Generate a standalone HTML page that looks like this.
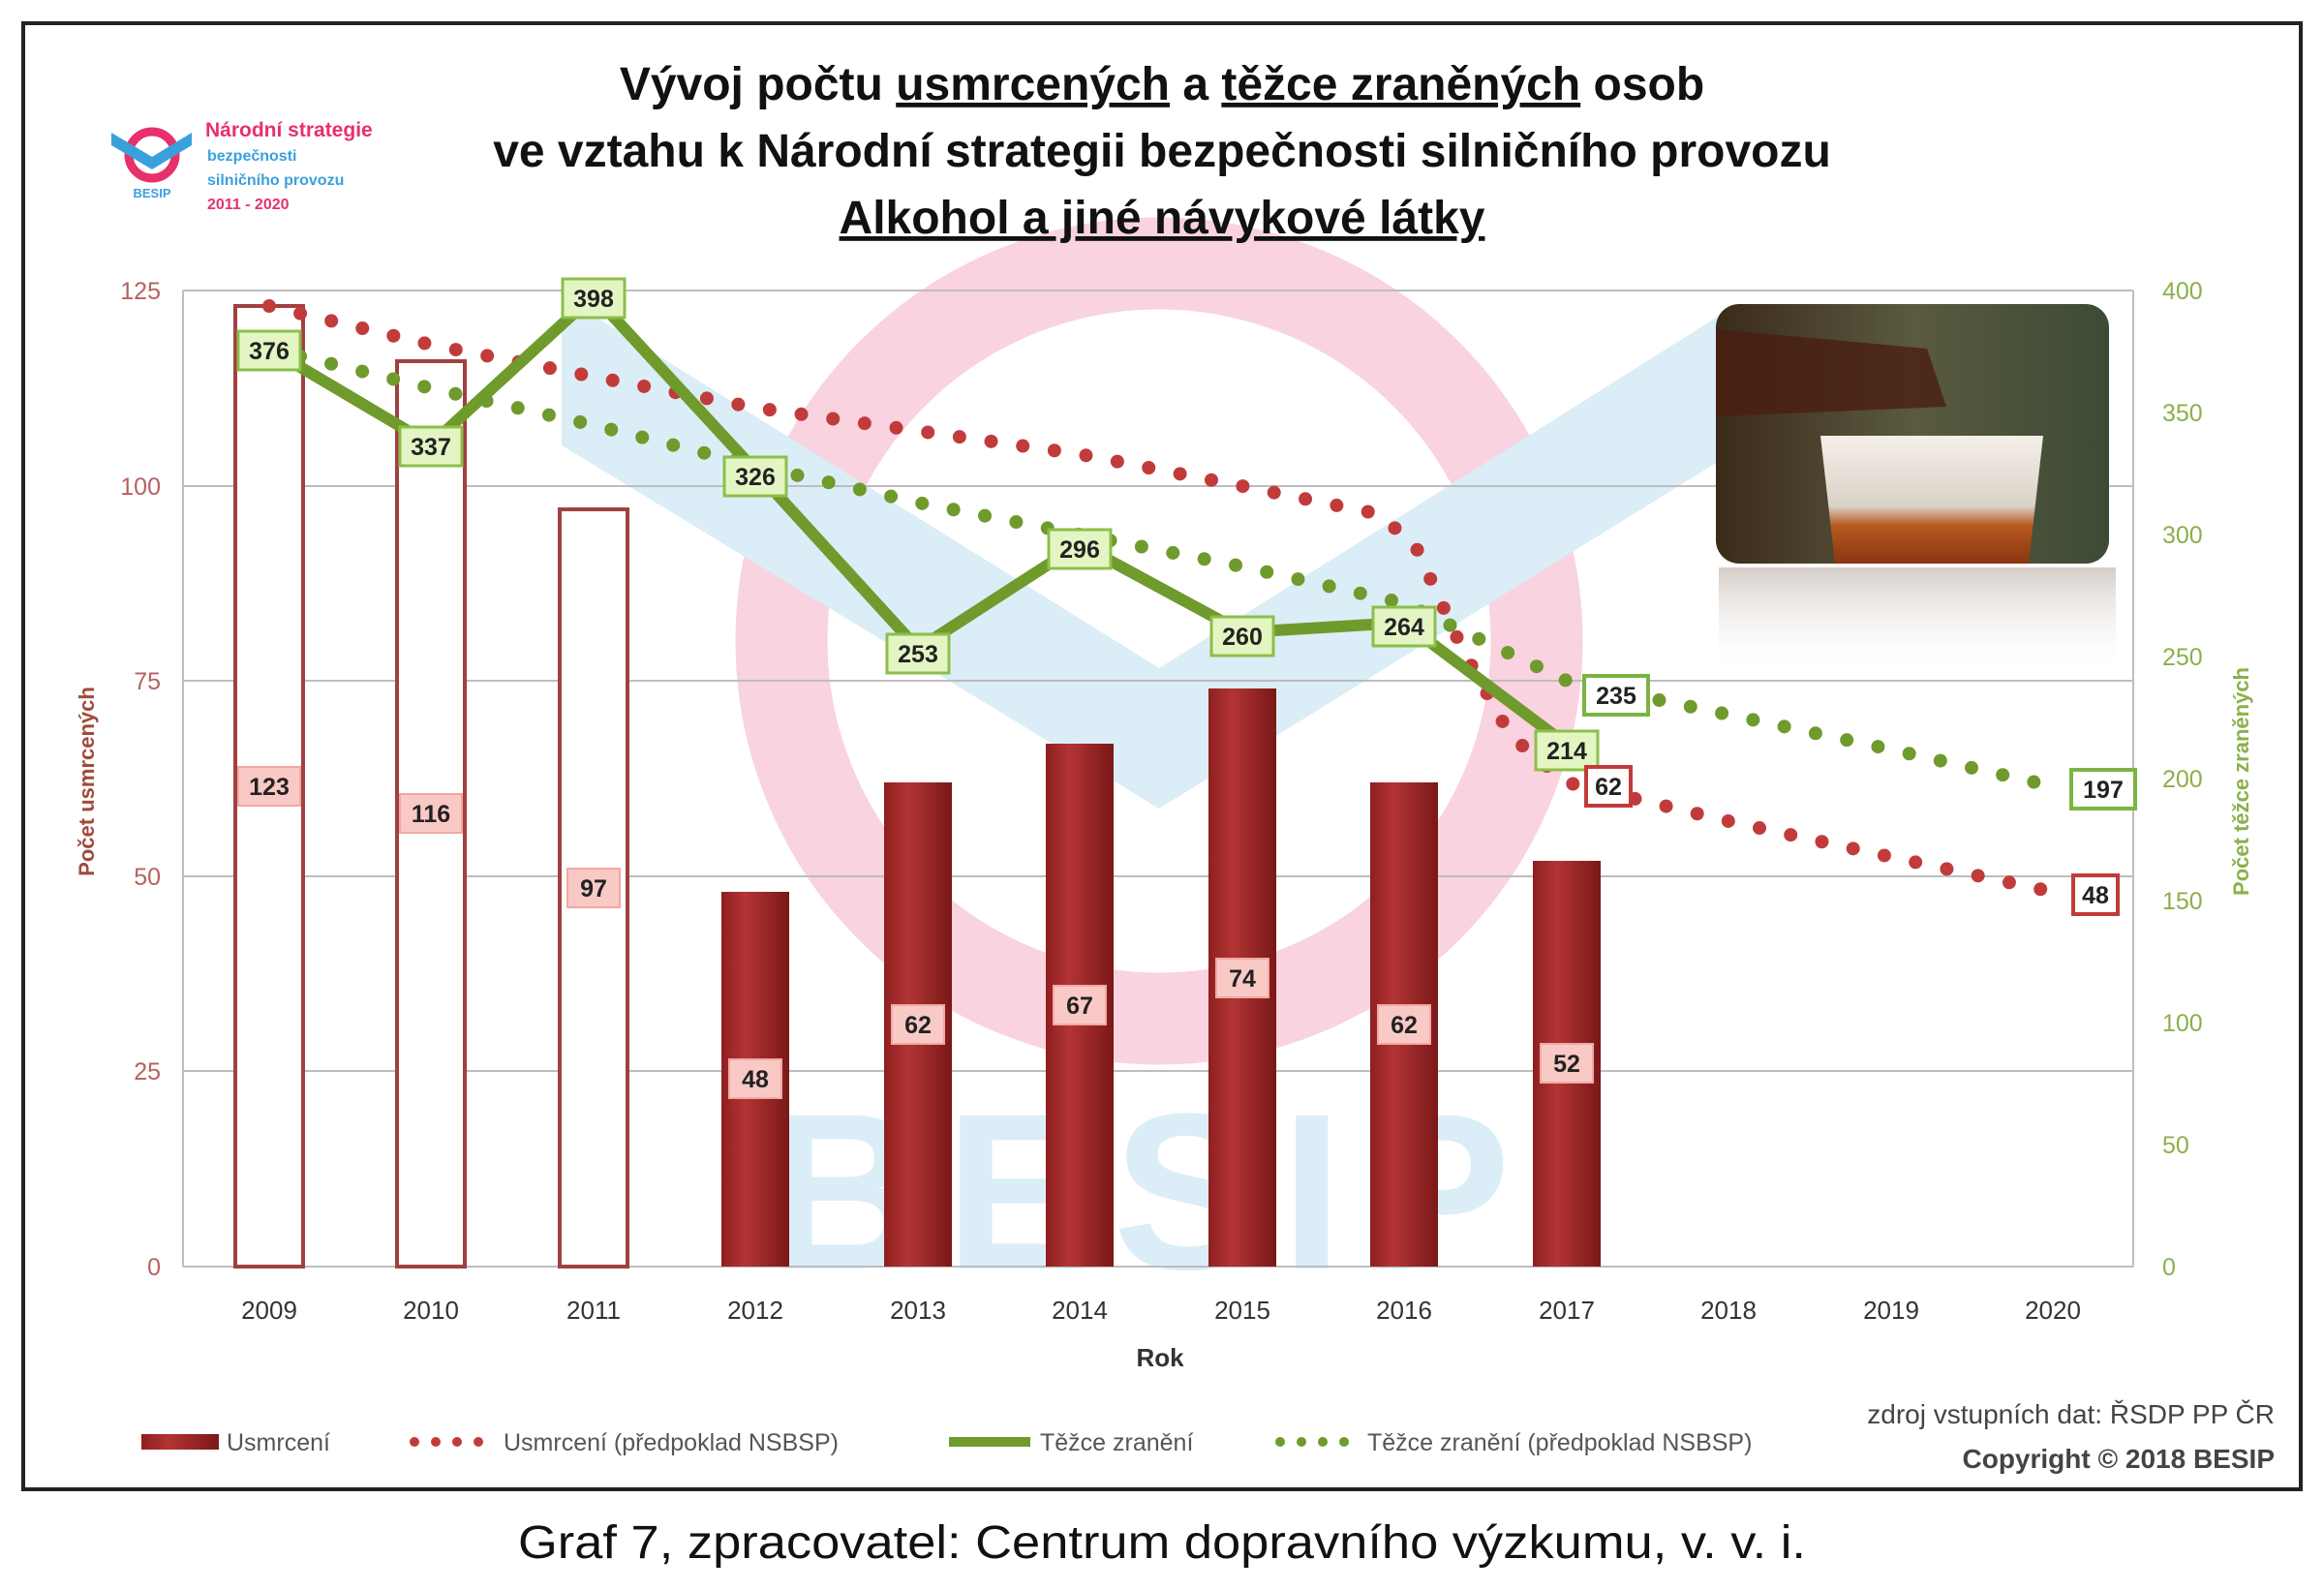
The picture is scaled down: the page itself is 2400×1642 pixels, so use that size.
<!DOCTYPE html>
<html><head><meta charset="utf-8"><style>
html,body{margin:0;padding:0;background:#fff}
svg{display:block}
text{font-family:"Liberation Sans","DejaVu Sans",sans-serif}
</style></head><body>
<svg width="2400" height="1642" viewBox="0 0 2400 1642" xmlns="http://www.w3.org/2000/svg">
<defs>
<linearGradient id="bar" x1="0" x2="1" y1="0" y2="0"><stop offset="0" stop-color="#8e1f1f"/><stop offset="0.35" stop-color="#b33434"/><stop offset="1" stop-color="#7a1818"/></linearGradient>
<linearGradient id="photo" x1="0" x2="1" y1="0" y2="0"><stop offset="0" stop-color="#3b2a1a"/><stop offset="0.5" stop-color="#5a5a40"/><stop offset="1" stop-color="#3d4a35"/></linearGradient>
<linearGradient id="beer" x1="0" x2="0" y1="0" y2="1"><stop offset="0" stop-color="#f4efe8"/><stop offset="0.55" stop-color="#d9d2c8"/><stop offset="0.7" stop-color="#b85a20"/><stop offset="1" stop-color="#8a3510"/></linearGradient>
<linearGradient id="refl" x1="0" x2="0" y1="0" y2="1"><stop offset="0" stop-color="#c9c0b8" stop-opacity="0.8"/><stop offset="1" stop-color="#fff" stop-opacity="0"/></linearGradient>
</defs>
<rect x="0" y="0" width="2400" height="1642" fill="#fff"/>
<rect x="24" y="24" width="2352" height="1514" fill="#fff" stroke="#222" stroke-width="4"/>

<!-- watermark -->
<g opacity="0.5">
<circle cx="1197" cy="662" r="390" fill="none" stroke="#f4a8c0" stroke-width="95"/>
<polygon points="580,305 1197,690 1785,320 1785,470 1197,835 580,460" fill="#b8dcf0"/>
<text x="1185" y="1310" text-anchor="middle" font-size="230" font-weight="bold" fill="#b8dcf0" letter-spacing="20">BESIP</text>
</g>

<!-- gridlines -->
<g stroke="#bdbdbd" stroke-width="2">
<line x1="189" y1="300" x2="2203" y2="300"/>
<line x1="189" y1="502" x2="2203" y2="502"/>
<line x1="189" y1="703" x2="2203" y2="703"/>
<line x1="189" y1="905" x2="2203" y2="905"/>
<line x1="189" y1="1106" x2="2203" y2="1106"/>
<line x1="189" y1="1308" x2="2203" y2="1308"/>
<line x1="189" y1="300" x2="189" y2="1308"/>
<line x1="2203" y1="300" x2="2203" y2="1308"/>
</g>

<!-- photo -->
<rect x="1775" y="586" width="410" height="110" fill="url(#refl)"/>
<rect x="1772" y="314" width="406" height="268" rx="24" fill="url(#photo)"/>
<path d="M1772 340 L1990 360 L2010 420 L1772 430 Z" fill="#4a1e10" opacity="0.8"/>
<path d="M1880 450 L2110 450 L2095 582 L1895 582 Z" fill="url(#beer)"/>

<!-- logo -->
<circle cx="157" cy="160" r="24" fill="none" stroke="#e8306a" stroke-width="9"/>
<polygon points="115,137 157,162 198,137 198,150 157,175 115,150" fill="#3aa0dc"/>
<text x="157" y="204" text-anchor="middle" font-size="13" font-weight="bold" fill="#3aa0dc">BESIP</text>
<text x="212" y="141" font-size="21" font-weight="bold" fill="#e8306a">Národní strategie</text>
<text x="214" y="166" font-size="16" font-weight="bold" fill="#3aa0dc">bezpečnosti</text>
<text x="214" y="191" font-size="16" font-weight="bold" fill="#3aa0dc">silničního provozu</text>
<text x="214" y="216" font-size="16" font-weight="bold" fill="#e8306a">2011 - 2020</text>

<!-- title -->
<g font-size="48" font-weight="bold" fill="#111" text-anchor="middle">
<text x="1200" y="103">Vývoj počtu <tspan text-decoration="underline">usmrcených</tspan> a <tspan text-decoration="underline">těžce zraněných</tspan> osob</text>
<text x="1200" y="172">ve vztahu k Národní strategii bezpečnosti silničního provozu</text>
<text x="1200" y="241" text-decoration="underline">Alkohol a jiné návykové látky</text>
</g>

<!-- bars -->
<g stroke="#a04040" stroke-width="4" fill="#fff">
<rect x="243" y="316" width="70" height="992"/>
<rect x="410" y="373" width="70" height="935"/>
<rect x="578" y="526" width="70" height="782"/>
</g>
<g fill="url(#bar)">
<rect x="745" y="921" width="70" height="387"/>
<rect x="913" y="808" width="70" height="500"/>
<rect x="1080" y="768" width="70" height="540"/>
<rect x="1248" y="711" width="70" height="597"/>
<rect x="1415" y="808" width="70" height="500"/>
<rect x="1583" y="889" width="70" height="419"/>
</g>

<!-- dotted forecasts -->
<polyline points="278,316 445,356 613,389 780,421 948,445 1115,469 1283,502 1420,530 1460,560 1510,670 1560,760 1618,808 1785,848 1953,885 2120,921" fill="none" stroke="#c23b3b" stroke-width="14" stroke-linecap="round" stroke-dasharray="0 33"/>
<polyline points="278,360 445,401 613,439 780,481 948,519 1115,552 1283,585 1450,623 1618,703 1785,738 1953,774 2120,812" fill="none" stroke="#6f9a2c" stroke-width="14" stroke-linecap="round" stroke-dasharray="0 33"/>

<!-- green line -->
<polyline points="278,360 445,459 613,305 780,486 948,670 1115,562 1283,653 1450,643 1618,769" fill="none" stroke="#6f9a2c" stroke-width="12" stroke-linejoin="round"/>

<!-- labels -->
<g font-size="25" font-weight="bold" text-anchor="middle" fill="#222">
<g fill="#e4f5c4" stroke="#8cbf4a" stroke-width="3">
<rect x="246" y="342" width="64" height="40"/>
<rect x="413" y="441" width="64" height="40"/>
<rect x="581" y="288" width="64" height="40"/>
<rect x="748" y="472" width="64" height="40"/>
<rect x="916" y="655" width="64" height="40"/>
<rect x="1083" y="547" width="64" height="40"/>
<rect x="1251" y="637" width="64" height="40"/>
<rect x="1418" y="627" width="64" height="40"/>
<rect x="1586" y="755" width="64" height="40"/>
</g>
<text x="278" y="371">376</text><text x="445" y="470">337</text><text x="613" y="317">398</text>
<text x="780" y="501">326</text><text x="948" y="684">253</text><text x="1115" y="576">296</text>
<text x="1283" y="666">260</text><text x="1450" y="656">264</text><text x="1618" y="784">214</text>
<g fill="#fff" stroke="#7cb342" stroke-width="4">
<rect x="1636" y="698" width="66" height="40"/><rect x="2139" y="795" width="66" height="40"/>
</g>
<text x="1669" y="727">235</text><text x="2172" y="824">197</text>
<g fill="#fff" stroke="#c23b3b" stroke-width="4">
<rect x="1638" y="792" width="46" height="40"/><rect x="2141" y="904" width="46" height="40"/>
</g>
<text x="1661" y="821">62</text><text x="2164" y="933">48</text>
<g fill="#f9c9c6" stroke="#f0a8a4" stroke-width="2">
<rect x="246" y="792" width="64" height="40"/><rect x="413" y="820" width="64" height="40"/>
<rect x="586" y="897" width="54" height="40"/><rect x="753" y="1094" width="54" height="40"/>
<rect x="921" y="1038" width="54" height="40"/><rect x="1088" y="1018" width="54" height="40"/>
<rect x="1256" y="990" width="54" height="40"/><rect x="1423" y="1038" width="54" height="40"/>
<rect x="1591" y="1078" width="54" height="40"/>
</g>
<text x="278" y="821">123</text><text x="445" y="849">116</text><text x="613" y="926">97</text>
<text x="780" y="1123">48</text><text x="948" y="1067">62</text><text x="1115" y="1047">67</text>
<text x="1283" y="1019">74</text><text x="1450" y="1067">62</text><text x="1618" y="1107">52</text>
</g>

<!-- axes labels -->
<g font-size="25" fill="#b86060" text-anchor="end">
<text x="166" y="309">125</text><text x="166" y="511">100</text><text x="166" y="712">75</text>
<text x="166" y="914">50</text><text x="166" y="1115">25</text><text x="166" y="1317">0</text>
</g>
<g font-size="25" fill="#8cb04a">
<text x="2233" y="309">400</text><text x="2233" y="435">350</text><text x="2233" y="561">300</text>
<text x="2233" y="687">250</text><text x="2233" y="813">200</text><text x="2233" y="939">150</text>
<text x="2233" y="1065">100</text><text x="2233" y="1191">50</text><text x="2233" y="1317">0</text>
</g>
<g font-size="26" fill="#333" text-anchor="middle">
<text x="278" y="1362">2009</text><text x="445" y="1362">2010</text><text x="613" y="1362">2011</text>
<text x="780" y="1362">2012</text><text x="948" y="1362">2013</text><text x="1115" y="1362">2014</text>
<text x="1283" y="1362">2015</text><text x="1450" y="1362">2016</text><text x="1618" y="1362">2017</text>
<text x="1785" y="1362">2018</text><text x="1953" y="1362">2019</text><text x="2120" y="1362">2020</text>
<text x="1198" y="1411" font-weight="bold">Rok</text>
</g>
<text transform="translate(97,807) rotate(-90)" text-anchor="middle" font-size="22" font-weight="bold" fill="#a04a3a">Počet usmrcených</text>
<text transform="translate(2322,807) rotate(-90)" text-anchor="middle" font-size="22" font-weight="bold" fill="#8cb04a">Počet těžce zraněných</text>

<!-- legend -->
<rect x="146" y="1481" width="80" height="16" fill="url(#bar)"/>
<line x1="428" y1="1489" x2="506" y2="1489" stroke="#c23b3b" stroke-width="10" stroke-linecap="round" stroke-dasharray="0 22"/>
<line x1="980" y1="1489" x2="1064" y2="1489" stroke="#6f9a2c" stroke-width="10"/>
<line x1="1322" y1="1489" x2="1400" y2="1489" stroke="#6f9a2c" stroke-width="10" stroke-linecap="round" stroke-dasharray="0 22"/>
<g font-size="25" fill="#555">
<text x="234" y="1498">Usmrcení</text>
<text x="520" y="1498">Usmrcení (předpoklad NSBSP)</text>
<text x="1074" y="1498">Těžce zranění</text>
<text x="1412" y="1498">Těžce zranění (předpoklad NSBSP)</text>
</g>
<text x="2349" y="1470" text-anchor="end" font-size="28" fill="#444">zdroj vstupních dat: ŘSDP PP ČR</text>
<text x="2349" y="1516" text-anchor="end" font-size="28" font-weight="bold" fill="#444">Copyright © 2018 BESIP</text>

<text x="535" y="1609" font-size="48" fill="#111" textLength="1330" lengthAdjust="spacingAndGlyphs">Graf 7, zpracovatel: Centrum dopravního výzkumu, v. v. i.</text>
</svg>
</body></html>
